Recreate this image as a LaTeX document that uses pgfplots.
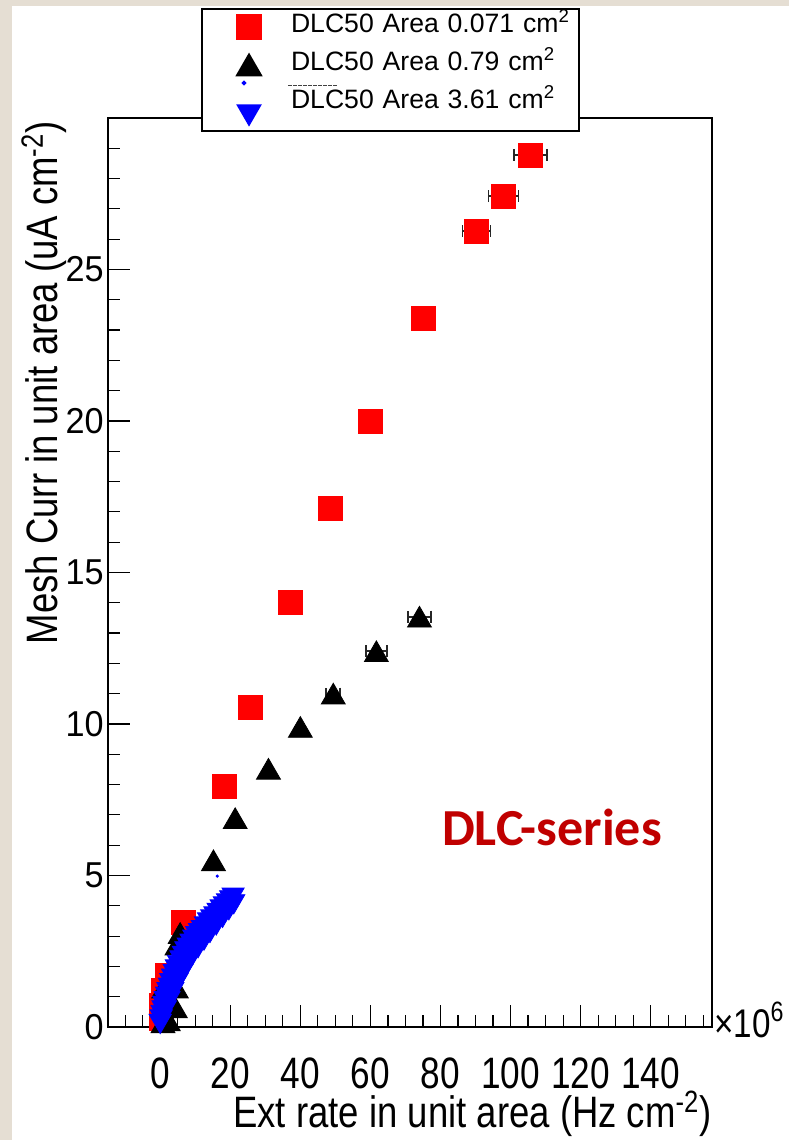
\documentclass[border=0pt]{standalone}
\usepackage{fontspec}
\setmainfont{Liberation Sans}
\newfontfamily\condfont{Liberation Sans}[FakeStretch=0.83]
\newfontfamily\xtickfont{Liberation Sans}[FakeStretch=0.8]
\newfontfamily\tickfont{Liberation Sans}[FakeStretch=0.95]
\newfontfamily\calfont{Carlito}
\usepackage{pgfplots}
\pgfplotsset{compat=1.18}
\definecolor{beige}{RGB}{229,222,211}
\definecolor{dlcred}{RGB}{192,0,0}

\newcommand\bluelegimg{%
  \draw[blue, mark=triangle*, mark size=6.4pt, mark options={yshift=1.6pt, rotate=180, fill=blue, draw=blue}] plot coordinates {(0pt,-6pt)};
  \fill[blue, overlay] (-2.5pt,10pt) circle (0.6pt);
  \draw[overlay, black!75, line width=0.5pt, dash pattern=on 2pt off 0.5pt] (19.5pt,8.5pt) -- (44pt,8.5pt);
}

\pgfplotstableread{
x y ex
105.7 28.78 4.7
98.0 27.42 4.3
90.3 26.27 4.0
75.1 23.37 0
60.0 19.99 0
48.6 17.10 0
37.1 14.00 0
25.7 10.55 0
18.3 7.95 0
6.7 3.45 0
2.0 1.70 0
0.9 1.20 0
0.3 0.70 0
0.2 0.30 0
}\redtab

\pgfplotstableread{
x y ex
74.0 13.54 3.3
61.7 12.40 3.0
49.4 11.00 2.0
40.0 9.90 0
30.9 8.52 0
21.4 6.89 0
15.2 5.50 0
5.7 3.10 0
4.8 2.72 0
1.0 1.30 0
4.6 1.30 0
4.3 0.65 0
2.3 0.22 0
0.8 0.15 0
}\blacktab

\pgfplotstableread{
x y
0.0 0.10
0.3 0.25
0.5 0.40
0.8 0.55
1.0 0.70
1.4 0.85
1.8 1.00
2.2 1.15
2.6 1.30
3.0 1.45
3.5 1.60
4.0 1.75
4.6 1.90
5.2 2.05
5.9 2.20
6.6 2.35
7.3 2.50
8.0 2.62
8.8 2.75
9.6 2.88
10.4 3.00
11.2 3.10
12.0 3.20
12.9 3.32
13.8 3.45
14.7 3.55
15.6 3.65
16.5 3.77
17.4 3.88
18.3 3.98
19.2 4.08
20.1 4.18
20.8 4.27
1.5 0.55
2.5 0.85
3.6 1.15
4.8 1.45
6.2 1.75
7.6 2.05
9.2 2.35
10.8 2.60
12.5 2.85
14.2 3.10
16.0 3.35
17.8 3.60
19.6 3.85
21.0 4.05
}\bluetab

\begin{document}
\begin{tikzpicture}
\useasboundingbox (0,0) rectangle (394.5pt,570pt);
\fill[white] (0,0) rectangle (394.5pt,570pt);
\fill[beige] (0,0) rectangle (6pt,570pt);
\fill[beige] (0,567pt) rectangle (394.5pt,570pt);
\begin{axis}[
  at={(54pt,56.5pt)}, anchor=south west,
  width=302pt, height=454.5pt, scale only axis,
  xmin=-14.9, xmax=157.5, ymin=0, ymax=30,
  clip=false,
  axis line style={line width=1pt},
  xtick={0,20,...,140}, ytick={0,5,...,25},
  minor xtick={-10,-5,5,10,15,25,30,35,45,50,55,65,70,75,85,90,95,105,110,115,125,130,135,145,150,155},
  minor ytick={1,2,3,4,6,7,8,9,11,12,13,14,16,17,18,19,21,22,23,24,26,27,28,29},
  tick pos=left, tick align=inside,
  major tick length=11pt, minor tick length=6pt,
  every tick/.append style={black, line width=0.6pt},
  /pgf/number format/assume math mode=true,
  xticklabel style={font=\xtickfont\fontsize{22}{22}\selectfont, anchor=base, yshift=-30.5pt},
  yticklabel style={font=\tickfont\fontsize{18}{18}\selectfont, anchor=east, inner xsep=2pt},
  xlabel={Ext rate in unit area (Hz cm\textsuperscript{-2})},
  xlabel style={font=\condfont\fontsize{22}{22}\selectfont, at={(axis description cs:1,-0.1111)}, anchor=base east, inner sep=0pt},
  ylabel={Mesh Curr in unit area (uA cm\textsuperscript{-2})},
  ylabel style={font=\condfont\fontsize{22}{22}\selectfont, at={(axis description cs:-0.0828,0.997)}, anchor=base east, inner sep=0pt},
  legend style={at={(axis description cs:0.154,1.121)}, anchor=north west, draw=black, line width=1pt, fill=white,
    font=\fontsize{13.3}{15}\selectfont, inner xsep=17.5pt, inner ysep=3pt, row sep=7pt, column sep=15pt,
    nodes={inner sep=0pt, text height=9pt, text depth=3pt, text width=126.5pt}},
  legend cell align=left,
  legend image code/.code={\draw[#1] plot coordinates {(0pt,0pt)};},
]
\addplot[only marks, mark=square*, mark size=6pt, color=red, mark options={fill=red, draw=red},
  error bars/.cd, x dir=both, x explicit, error bar style={black!85, line width=0.8pt}, error mark options={black!85, mark size=3pt, line width=0.8pt, rotate=90}]
  table[x=x, y=y, x error=ex] {\redtab};
\addlegendentry{\mbox{DLC50 Area 0.071 cm\textsuperscript{2}}}
\addplot[only marks, mark=triangle*, mark size=6.9pt, color=black, mark options={yshift=-1.7pt, fill=black, draw=black},
  error bars/.cd, x dir=both, x explicit, error bar style={black!85, line width=0.8pt}, error mark options={black!85, mark size=3pt, line width=0.8pt, rotate=90}]
  table[x=x, y=y, x error=ex] {\blacktab};
\addlegendentry{\mbox{DLC50 Area 0.79 cm\textsuperscript{2}}}
\addplot[only marks, mark=triangle*, mark size=6.4pt, color=blue, mark options={yshift=1.6pt, rotate=180, fill=blue, draw=blue},
  legend image code/.code={\bluelegimg}]
  table[x=x, y=y] {\bluetab};
\addlegendentry{\mbox{DLC50 Area 3.61 cm\textsuperscript{2}}}
\addplot[only marks, mark=*, mark size=0.6pt, color=blue, forget plot] coordinates {(16.3,4.98)};
\node[font=\calfont\bfseries\fontsize{26}{26}\selectfont, text=dlcred] at (rel axis cs:0.735,0.22) {DLC-series};
\node[font=\condfont\fontsize{20}{20}\selectfont, anchor=base west, inner sep=0pt] at ([xshift=1pt,yshift=-5pt]rel axis cs:1,0) {×10\textsuperscript{6}};
\end{axis}
\end{tikzpicture}
\end{document}
